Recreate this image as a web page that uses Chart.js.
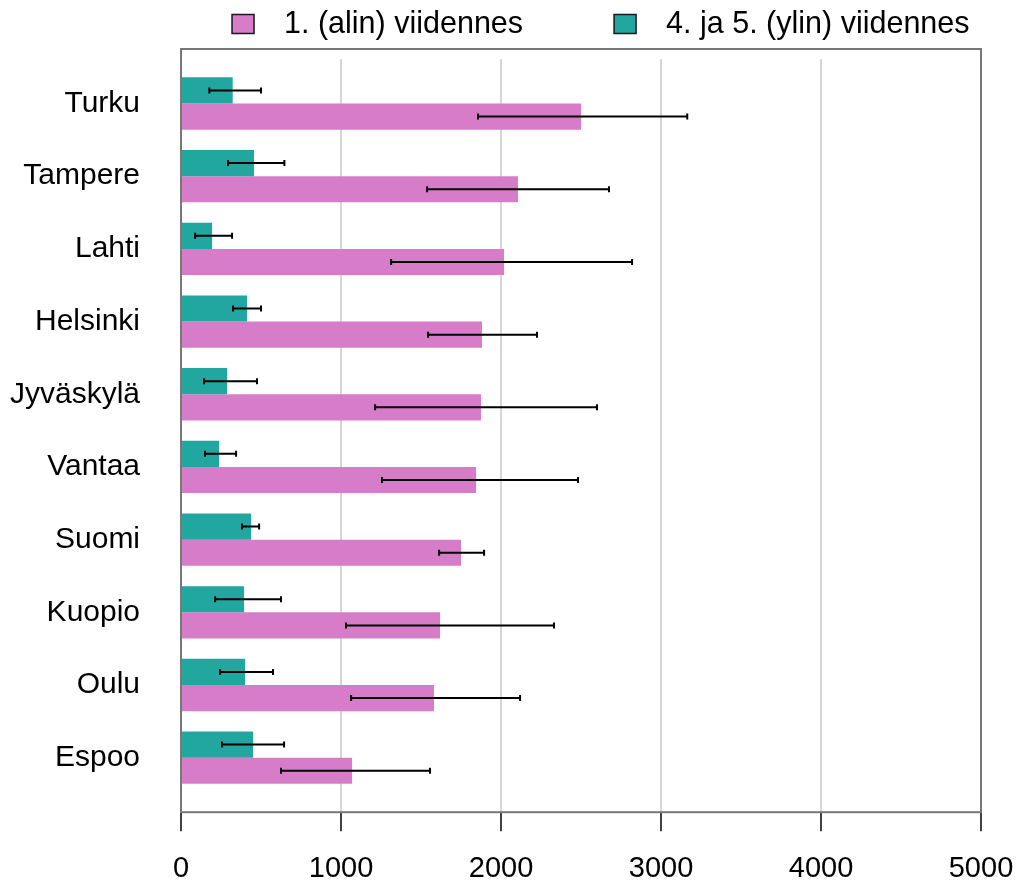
<!DOCTYPE html>
<html>
<head>
<meta charset="utf-8">
<script src="https://cdn.jsdelivr.net/npm/chart.js@4.4.1/dist/chart.umd.min.js"></script>
<style>
  html, body { margin: 0; padding: 0; background: #fff; }
  canvas { display: block; }
</style>
</head>
<body>
<canvas id="chart" width="1024" height="888"></canvas>
<script>
// categories, top to bottom
var cities = ['Turku', 'Tampere', 'Lahti', 'Helsinki', 'Jyväskylä', 'Vantaa', 'Suomi', 'Kuopio', 'Oulu', 'Espoo'];

// 1. (alin) viidennes
var alin     = [2500, 2106, 2019, 1881, 1875, 1844, 1750, 1619, 1581, 1069];
var alinLow  = [1856, 1538, 1313, 1544, 1213, 1256, 1613, 1031, 1063, 625];
var alinHigh = [3164, 2675, 2819, 2225, 2600, 2481, 1894, 2331, 2119, 1556];

// 4. ja 5. (ylin) viidennes
var ylin     = [323, 456, 194, 413, 288, 238, 438, 394, 400, 450];
var ylinLow  = [177, 294, 88, 325, 144, 150, 381, 213, 244, 256];
var ylinHigh = [500, 646, 319, 500, 475, 344, 488, 625, 575, 644];

var xTicks = [0, 1000, 2000, 3000, 4000, 5000];

var PINK = '#d67cc9';
var TEAL = '#22a6a0';
var FONT = '"Liberation Sans", Arial, Helvetica, sans-serif';

Chart.defaults.font.family = FONT;
Chart.defaults.color = '#000';

function toPoints(values) {
    return values.map(function(v, i) { return {x: v, y: i}; });
}

var extras = {
    id: 'extras',
    beforeDatasetsDraw: function(chart) {
        // grid lines stop a little under the top of the frame
        var a = chart.chartArea, ctx = chart.ctx;
        ctx.save();
        ctx.fillStyle = '#fff';
        ctx.fillRect(a.left + 1, a.top, a.right - a.left - 2, 10);
        ctx.restore();
    },
    afterDatasetsDraw: function(chart) {
        var ctx = chart.ctx, xs = chart.scales.x, a = chart.chartArea;
        ctx.save();
        // error bars
        ctx.strokeStyle = '#000';
        ctx.lineWidth = 2;
        chart.data.datasets.forEach(function(ds, di) {
            chart.getDatasetMeta(di).data.forEach(function(bar, i) {
                var x0 = xs.getPixelForValue(ds.errLow[i]);
                var x1 = xs.getPixelForValue(ds.errHigh[i]);
                var y = bar.y;
                ctx.beginPath();
                ctx.moveTo(x0, y); ctx.lineTo(x1, y);
                ctx.moveTo(x0, y - 3); ctx.lineTo(x0, y + 3);
                ctx.moveTo(x1, y - 3); ctx.lineTo(x1, y + 3);
                ctx.stroke();
            });
        });
        // frame
        ctx.strokeStyle = '#777';
        ctx.lineWidth = 2;
        ctx.strokeRect(a.left, a.top, a.right - a.left, a.bottom - a.top);

        // legend, datasets in reverse order
        ctx.font = '30.5px ' + FONT;
        ctx.textBaseline = 'middle';
        ctx.textAlign = 'left';
        var x = a.left + 51, y = a.top - 25;
        chart.data.datasets.slice().reverse().forEach(function(ds) {
            ctx.fillStyle = ds.backgroundColor;
            ctx.fillRect(x, y - 9.5, 22, 19);
            ctx.strokeStyle = '#1a1a1a';
            ctx.lineWidth = 1.5;
            ctx.strokeRect(x, y - 9.5, 22, 19);
            ctx.fillStyle = '#000';
            ctx.fillText(ds.label, x + 52, y + 1);
            x += 52 + ctx.measureText(ds.label).width + 91;
        });
        ctx.restore();
    }
};

new Chart(document.getElementById('chart'), {
    type: 'bar',
    data: {
        datasets: [
            {
                label: '4. ja 5. (ylin) viidennes',
                data: toPoints(ylin),
                backgroundColor: TEAL,
                errLow: ylinLow,
                errHigh: ylinHigh
            },
            {
                label: '1. (alin) viidennes',
                data: toPoints(alin),
                backgroundColor: PINK,
                errLow: alinLow,
                errHigh: alinHigh
            }
        ]
    },
    options: {
        indexAxis: 'y',
        responsive: false,
        animation: false,
        categoryPercentage: 0.72,
        barPercentage: 1,
        layout: { padding: { top: 49, left: 10, right: 43, bottom: 2 } },
        scales: {
            x: {
                type: 'linear',
                min: 0,
                max: 5000,
                afterBuildTicks: function(axis) {
                    axis.ticks = xTicks.map(function(v) { return {value: v}; });
                },
                afterFit: function(axis) {
                    var p = axis.options.ticks.padding;
                    axis.height -= p;
                    axis.paddingRight = Math.max(axis.paddingRight - p, 0);
                    axis.paddingLeft = Math.max(axis.paddingLeft - p, 0);
                },
                grid: {
                    color: '#d6d6d6',
                    lineWidth: 2,
                    tickColor: '#000',
                    tickWidth: 1.5,
                    tickLength: 19
                },
                border: { display: false },
                ticks: {
                    padding: 20,
                    font: { size: 29 },
                    color: '#000',
                    callback: function(v) { return String(v); }
                }
            },
            y: {
                type: 'linear',
                reverse: true,
                offset: false,
                min: -0.75,
                max: 9.75,
                afterFit: function(axis) {
                    axis.width -= axis.options.ticks.padding;
                    axis.paddingTop = 0;
                    axis.paddingBottom = 0;
                },
                grid: { display: false, drawTicks: false, offset: false },
                border: { display: false },
                ticks: {
                    stepSize: 1,
                    includeBounds: false,
                    autoSkip: false,
                    padding: 41,
                    font: { size: 30 },
                    color: '#000',
                    callback: function(v) { return cities[v] !== undefined ? cities[v] : ''; }
                }
            }
        },
        plugins: {
            tooltip: { enabled: false },
            legend: { display: false }
        }
    },
    plugins: [extras]
});
</script>
</body>
</html>
